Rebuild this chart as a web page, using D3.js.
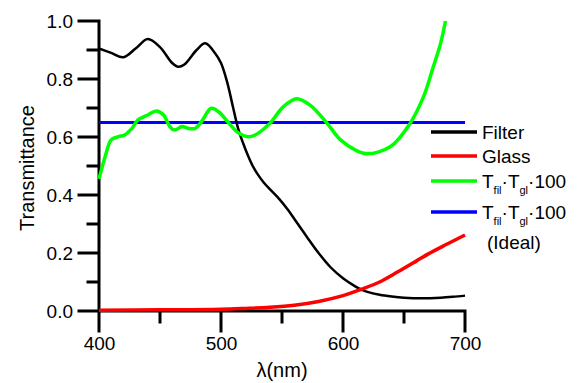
<!DOCTYPE html>
<html>
<head>
<meta charset="utf-8">
<script src="https://cdn.jsdelivr.net/npm/d3@7"></script>
<style>
  body { margin: 0; background: #fff; }
  svg text { font-family: "Liberation Sans", Arial, sans-serif; fill: #000; }
</style>
</head>
<body>
<div id="chart"></div>
<script>
// wavelength (nm) / transmittance
const filterX = [400, 410, 420, 430, 440, 450, 460, 465, 470, 480, 487, 495, 500, 505, 510, 514, 518, 522, 526, 530, 535, 540, 548, 555, 560, 570, 580, 590, 600, 610, 615, 620, 630, 640, 650, 665, 680, 690, 700];
const filterY = [0.905, 0.89, 0.875, 0.905, 0.938, 0.91, 0.855, 0.842, 0.85, 0.9, 0.923, 0.89, 0.855, 0.79, 0.70, 0.63, 0.58, 0.537, 0.5, 0.472, 0.443, 0.42, 0.385, 0.348, 0.318, 0.258, 0.2, 0.15, 0.113, 0.085, 0.074, 0.066, 0.056, 0.05, 0.046, 0.044, 0.046, 0.049, 0.053];

const glassX = [400, 450, 500, 520, 540, 560, 580, 600, 615, 630, 645, 660, 670, 685, 700];
const glassY = [0.003, 0.004, 0.006, 0.009, 0.013, 0.02, 0.033, 0.053, 0.075, 0.1, 0.135, 0.172, 0.197, 0.23, 0.262];

const prodX = [400, 405, 410, 416, 421, 427, 432, 440, 447, 453, 458, 462, 468, 473, 479, 484, 492, 498, 506, 514, 522, 528, 540, 551, 562, 573, 587, 598, 611, 620, 639, 655, 666, 674, 680, 684];
const prodY = [0.455, 0.532, 0.59, 0.601, 0.607, 0.63, 0.659, 0.676, 0.69, 0.676, 0.636, 0.624, 0.636, 0.63, 0.63, 0.653, 0.699, 0.687, 0.65, 0.615, 0.601, 0.607, 0.647, 0.704, 0.732, 0.71, 0.647, 0.59, 0.553, 0.542, 0.567, 0.647, 0.739, 0.842, 0.923, 1.0];

const idealX = [400, 700];
const idealY = [0.65, 0.65];

const xTicks = [400, 500, 600, 700];
const xMinor = [450, 550, 650];
const yTicks = [0.0, 0.2, 0.4, 0.6, 0.8, 1.0];
const yMinor = [0.1, 0.3, 0.5, 0.7, 0.9];

const width = 581, height = 383;
const margin = {left: 99, top: 21, right: 116, bottom: 72};

const svg = d3.select("#chart").append("svg")
  .attr("width", width)
  .attr("height", height);

const x = d3.scaleLinear().domain([400, 700]).range([margin.left, width - margin.right]);
const y = d3.scaleLinear().domain([0, 1]).range([height - margin.bottom, margin.top]);

const majorLen = 20, minorLen = 11;

// labels from d3.axis
const xAxis = svg.append("g")
  .attr("transform", "translate(0," + y(0) + ")")
  .call(d3.axisBottom(x).tickValues(xTicks).tickSize(0).tickPadding(majorLen + 6));
const yAxis = svg.append("g")
  .attr("transform", "translate(" + x(400) + ",0)")
  .call(d3.axisLeft(y).tickValues(yTicks).tickSize(0).tickPadding(majorLen + 6).tickFormat(d3.format(".1f")));

[xAxis, yAxis].forEach(function(g) {
  g.select(".domain").remove();
  g.selectAll("text").style("font-size", "19px").attr("font-family", null);
});

// tick marks + axis lines as one path
const p = d3.path();
p.moveTo(x(400), y(1));
p.lineTo(x(400), y(0));
p.lineTo(x(700), y(0));
xTicks.forEach(function(v) { p.moveTo(x(v), y(0)); p.lineTo(x(v), y(0) + majorLen); });
xMinor.forEach(function(v) { p.moveTo(x(v), y(0)); p.lineTo(x(v), y(0) + minorLen); });
yTicks.forEach(function(v) { p.moveTo(x(400), y(v)); p.lineTo(x(400) - majorLen, y(v)); });
yMinor.forEach(function(v) { p.moveTo(x(400), y(v)); p.lineTo(x(400) - minorLen, y(v)); });

svg.append("path")
  .attr("d", p.toString())
  .attr("fill", "none")
  .attr("stroke", "#000")
  .attr("stroke-width", 3)
  .attr("stroke-linecap", "square");

// curves
function series(xs, ys) { return xs.map(function(d, i) { return [d, ys[i]]; }); }

const line = d3.line()
  .x(function(d) { return x(d[0]); })
  .y(function(d) { return y(d[1]); })
  .curve(d3.curveCatmullRom.alpha(0.5));

const lines = [
  {data: series(idealX, idealY), color: "#0000ff", w: 3},
  {data: series(filterX, filterY), color: "#000000", w: 2.5},
  {data: series(glassX, glassY), color: "#ff0000", w: 3.5},
  {data: series(prodX, prodY), color: "#00ff00", w: 3.5}
];

svg.selectAll("path.curve")
  .data(lines)
  .enter().append("path")
  .attr("class", "curve")
  .attr("d", function(d) { return line(d.data); })
  .attr("fill", "none")
  .attr("stroke", function(d) { return d.color; })
  .attr("stroke-width", function(d) { return d.w; })
  .attr("stroke-linejoin", "round");

// axis titles
svg.append("text")
  .attr("transform", "translate(34,168) rotate(-90)")
  .attr("text-anchor", "middle")
  .style("font-size", "20px")
  .text("Transmittance");

svg.append("text")
  .attr("x", 282)
  .attr("y", 377)
  .attr("text-anchor", "middle")
  .style("font-size", "20px")
  .text("λ(nm)");

// legend
const legendItems = [
  {label: "Filter", color: "#000000", y: 132},
  {label: "Glass", color: "#ff0000", y: 156},
  {label: "prod", color: "#00ff00", y: 181},
  {label: "ideal", color: "#0000ff", y: 212}
];

const legend = svg.append("g");
legendItems.forEach(function(it) {
  legend.append("line")
    .attr("x1", 431).attr("x2", 477)
    .attr("y1", it.y).attr("y2", it.y)
    .attr("stroke", it.color)
    .attr("stroke-width", 3.5);
  const t = legend.append("text")
    .attr("x", 482)
    .attr("y", it.y + 7)
    .style("font-size", "19px");
  if (it.label === "Filter" || it.label === "Glass") {
    t.text(it.label);
  } else {
    t.append("tspan").text("T");
    t.append("tspan").attr("dy", 6).style("font-size", "11px").text("fil");
    t.append("tspan").attr("dy", -6).text("·T");
    t.append("tspan").attr("dy", 6).style("font-size", "11px").text("gl");
    t.append("tspan").attr("dy", -6).text("·100");
  }
});
legend.append("text")
  .attr("x", 487)
  .attr("y", 249)
  .style("font-size", "19px")
  .text("(Ideal)");
</script>
</body>
</html>
